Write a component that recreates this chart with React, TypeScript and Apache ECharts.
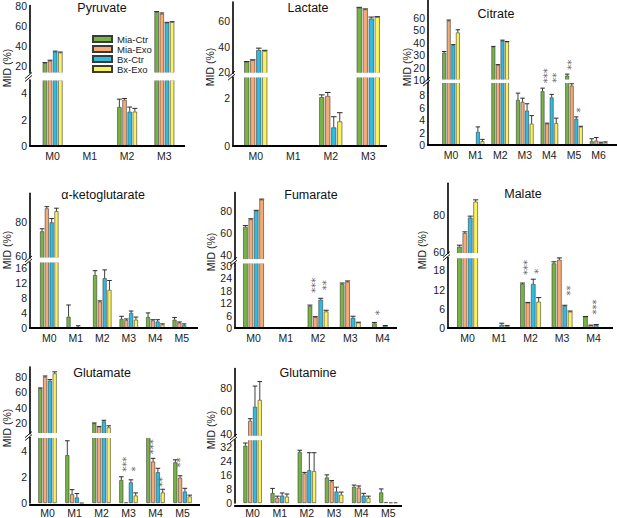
import { useEffect, useRef } from "react";
import * as echarts from "echarts";

const FONT = '"Liberation Sans", Arial, sans-serif';
const STAR_FONT = '"DejaVu Sans", sans-serif';
const SERIES_NAMES = ["Mia-Ctr", "Mia-Exo", "Bx-Ctr", "Bx-Exo"];
const SERIES_COLORS = ["#78b444", "#f6aa74", "#2ebde0", "#fbf35a"];
const STAR_COLOR = "#6a6a6a";

const CATS_4 = ["M0", "M1", "M2", "M3"];
const CATS_5 = ["M0", "M1", "M2", "M3", "M4"];
const CATS_6 = ["M0", "M1", "M2", "M3", "M4", "M5"];
const CATS_7 = ["M0", "M1", "M2", "M3", "M4", "M5", "M6"];

// rows: Mia-Ctr, Mia-Exo, Bx-Ctr, Bx-Exo
const pyruvateMeans = [
  [22.8, 0, 2.95, 73.5],
  [25.1, 0, 3.5, 71.8],
  [34.2, 0, 2.6, 63.0],
  [33.3, 0, 2.6, 63.5],
];
const pyruvateErrors = [
  [0.5, 0, 0.6, 0.5],
  [0.6, 0, 0.1, 0.8],
  [0.5, 0, 0.35, 0.3],
  [0.5, 0, 0.25, 0.4],
];
const pyruvateLowerTicks = [0, 2, 4];
const pyruvateUpperTicks = [20, 40, 60, 80];

const lactateMeans = [
  [28.0, 0, 2.05, 70.5],
  [29.3, 0, 2.1, 69.2],
  [37.3, 0, 0.78, 62.0],
  [36.5, 0, 1.03, 63.2],
];
const lactateErrors = [
  [0.3, 0, 0.1, 0.3],
  [0.4, 0, 0.15, 0.4],
  [1.5, 0, 0.45, 1.2],
  [0.6, 0, 0.37, 0.3],
];
const lactateLowerTicks = [0, 2];
const lactateUpperTicks = [20, 40, 60];

const citrateMeans = [
  [31.8, 0, 36.5, 7.2, 8.6, 13.5, 0.6],
  [57.5, 0, 22.0, 6.9, 3.4, 9.5, 0.7],
  [37.8, 2.1, 41.5, 5.5, 7.6, 4.2, 0.35],
  [48.0, 0.6, 40.5, 3.4, 3.5, 2.9, 0.4],
];
const citrateErrors = [
  [1.0, 0, 0.4, 1.1, 0.5, 1.2, 0.4],
  [0.5, 0, 0.3, 0.6, 0.1, 0.3, 0.5],
  [0.5, 0.8, 0.4, 1.1, 0.5, 0.3, 0.1],
  [2.2, 0.3, 0.3, 1.3, 0.8, 0.1, 0.1],
];
const citrateLowerTicks = [0, 2, 4, 6, 8];
const citrateUpperTicks = [10, 20, 30, 40, 50, 60];
// [category, bar, y, stars]
const citrateSig = [
  [4, 1, 13.4, 3],
  [4, 3, 11.8, 2],
  [5, 1, 22.2, 2],
  [5, 3, 5.6, 1],
];

const akgMeans = [
  [74.7, 3.0, 14.0, 2.4, 2.9, 2.2],
  [88.2, 0, 7.0, 2.1, 2.0, 1.4],
  [80.0, 0.3, 13.2, 4.0, 1.7, 0.8],
  [86.5, 0, 10.1, 2.2, 0.9, 0.1],
];
const akgErrors = [
  [1.5, 3.1, 1.2, 0.7, 1.1, 0.6],
  [1.0, 0, 0.2, 0.3, 0.2, 0.2],
  [2.2, 0.3, 2.2, 0.5, 0.5, 0.3],
  [1.8, 0, 2.5, 0.7, 0.2, 0],
];
const akgLowerTicks = [0, 4, 8, 12, 16];
const akgUpperTicks = [60, 80];

const fumarateMeans = [
  [65.7, 0, 10.6, 21.3, 2.2],
  [72.5, 0, 5.2, 22.4, 0.3],
  [80.3, 0, 13.7, 4.9, 1.0],
  [90.5, 0, 8.0, 2.6, 0.2],
];
const fumarateErrors = [
  [1.2, 0, 0.5, 0.5, 0.5],
  [0.6, 0, 0.3, 0.4, 0],
  [0.5, 0, 0.7, 0.8, 0.2],
  [0.5, 0, 0.6, 0.2, 0],
];
const fumarateLowerTicks = [0, 6, 12, 18, 24, 30];
const fumarateUpperTicks = [40, 60, 80];
const fumarateSig = [
  [2, 1, 20.7, 3],
  [2, 3, 20.7, 2],
  [4, 1, 7.4, 1],
];
// [bar, category, colour index] : the M0 Bx-Exo bar is drawn orange in the source
const fumarateColorOverrides = [[3, 0, 1]];

const malateMeans = [
  [62.7, 0, 13.75, 20.2, 3.5],
  [70.0, 0, 7.9, 21.3, 0.8],
  [78.4, 1.0, 13.75, 6.9, 0.9],
  [87.0, 0.6, 8.2, 5.1, 0],
];
const malateErrors = [
  [0.8, 0, 0.3, 0.5, 0.1],
  [0.7, 0, 0.1, 0.6, 0.1],
  [0.8, 0.5, 1.5, 0.2, 0.2],
  [1.0, 0.2, 1.3, 0.2, 0],
];
const malateLowerTicks = [0, 6, 12, 18];
const malateUpperTicks = [60, 80];
const malateSig = [
  [2, 1, 18.9, 3],
  [2, 3, 17.7, 1],
  [3, 3, 11.7, 2],
  [4, 2, 6.6, 3],
];

const glutamateMeans = [
  [65.2, 3.65, 19.5, 1.75, 5.3, 3.1],
  [80.3, 0.67, 15.0, 0.05, 3.16, 1.93],
  [75.1, 0.42, 22.0, 1.57, 2.35, 0.87],
  [84.7, 0, 14.3, 0.57, 0.8, 0.5],
];
const glutamateErrors = [
  [0.5, 1.1, 0.5, 0.25, 0, 0.2],
  [1.0, 0.35, 0.5, 0, 0.25, 0.15],
  [1.5, 0.3, 1.5, 0.2, 0.3, 0.25],
  [2.0, 0, 2.0, 0.2, 0.25, 0.1],
];
const glutamateLowerTicks = [0, 2, 4];
const glutamateUpperTicks = [20, 40, 60, 80];
const glutamateSig = [
  [3, 1, 2.96, 3],
  [3, 3, 2.6, 1],
  [4, 1, 4.3, 3],
  [4, 3, 1.6, 2],
  [5, 1, 3.1, 2],
];

const glutamineMeans = [
  [32.6, 5.6, 29.0, 14.5, 9.2, 6.0],
  [51.3, 2.9, 16.8, 12.3, 8.7, 0.5],
  [63.7, 4.2, 18.6, 6.5, 4.2, 0.3],
  [69.6, 3.6, 18.1, 4.7, 2.9, 0.3],
];
const glutamineErrors = [
  [1.5, 2.7, 1.0, 1.5, 1.0, 2.0],
  [2.0, 1.0, 0.6, 0.5, 1.0, 0],
  [18.0, 1.5, 10.0, 2.5, 1.3, 0],
  [16.0, 1.5, 10.5, 1.5, 1.0, 0],
];
const glutamineLowerTicks = [0, 8, 16, 24, 32];
const glutamineUpperTicks = [40, 60, 80];

const PANELS = [
  { title: "Pyruvate", cats: CATS_4, means: pyruvateMeans, errs: pyruvateErrors, lower: [0, 5], upper: [13, 80], lowerTicks: pyruvateLowerTicks, upperTicks: pyruvateUpperTicks, sig: [], overrides: [] },
  { title: "Lactate", cats: CATS_4, means: lactateMeans, errs: lactateErrors, lower: [0, 2.9], upper: [19, 75], lowerTicks: lactateLowerTicks, upperTicks: lactateUpperTicks, sig: [], overrides: [] },
  { title: "Citrate", cats: CATS_7, means: citrateMeans, errs: citrateErrors, lower: [0, 10], upper: [10, 74], lowerTicks: citrateLowerTicks, upperTicks: citrateUpperTicks, sig: citrateSig, overrides: [] },
  { title: "\u03b1-ketoglutarate", cats: CATS_6, means: akgMeans, errs: akgErrors, lower: [0, 17.5], upper: [59, 97], lowerTicks: akgLowerTicks, upperTicks: akgUpperTicks, sig: [], overrides: [] },
  { title: "Fumarate", cats: CATS_5, means: fumarateMeans, errs: fumarateErrors, lower: [0, 31.5], upper: [36, 97], lowerTicks: fumarateLowerTicks, upperTicks: fumarateUpperTicks, sig: fumarateSig, overrides: fumarateColorOverrides },
  { title: "Malate", cats: CATS_5, means: malateMeans, errs: malateErrors, lower: [0, 22], upper: [59, 97], lowerTicks: malateLowerTicks, upperTicks: malateUpperTicks, sig: malateSig, overrides: [] },
  { title: "Glutamate", cats: CATS_6, means: glutamateMeans, errs: glutamateErrors, lower: [0, 5], upper: [6, 93], lowerTicks: glutamateLowerTicks, upperTicks: glutamateUpperTicks, sig: glutamateSig, overrides: [] },
  { title: "Glutamine", cats: CATS_6, means: glutamineMeans, errs: glutamineErrors, lower: [0, 36], upper: [38, 97], lowerTicks: glutamineLowerTicks, upperTicks: glutamineUpperTicks, sig: [], overrides: [] },
];

// pixel layout of each panel
const LAYOUT = [
  { axisX: 30, left: 34, width: 149, xEnd: 185, base: 146, lowerTop: 80, upperTop: 5, upperBottom: 73, barW: 4.3, titleX: 102, titleY: 8, nameX: 7, nameY: 68 },
  { axisX: 233, left: 237, width: 150, xEnd: 387, base: 146, lowerTop: 77, upperTop: 2, upperBottom: 73.4, barW: 5, titleX: 308, titleY: 8, nameX: 210, nameY: 67 },
  { axisX: 428, left: 438.7, width: 172.2, xEnd: 617, base: 145, lowerTop: 82.5, upperTop: 0, upperBottom: 80, barW: 3.8, titleX: 496, titleY: 14, nameX: 407, nameY: 67 },
  { axisX: 30, left: 36, width: 159, xEnd: 198, base: 328, lowerTop: 262, upperTop: 193.4, upperBottom: 258, barW: 4, titleX: 103, titleY: 195, nameX: 7, nameY: 250 },
  { axisX: 235, left: 237.4, width: 161.25, xEnd: 397, base: 328, lowerTop: 263, upperTop: 192.5, upperBottom: 259.5, barW: 4.5, titleX: 311, titleY: 195, nameX: 211, nameY: 252 },
  { axisX: 448, left: 451.8, width: 157.5, xEnd: 613, base: 328, lowerTop: 257.6, upperTop: 183.2, upperBottom: 253.5, barW: 4.5, titleX: 523, titleY: 194, nameX: 422, nameY: 250 },
  { axisX: 30, left: 34, width: 162, xEnd: 200, base: 505, lowerTop: 437.5, upperTop: 367, upperBottom: 433.7, barW: 4, titleX: 102, titleY: 373, nameX: 7, nameY: 428 },
  { axisX: 235, left: 239, width: 163, xEnd: 402, base: 506, lowerTop: 439.7, upperTop: 368.5, upperBottom: 436.3, barW: 4, titleX: 308, titleY: 373, nameX: 211, nameY: 430 },
];

const BAR_GAP = 0.2;

function barOffset(L: { barW: number }, s: number) {
  const total = 4 * L.barW + 3 * BAR_GAP * L.barW;
  return -total / 2 + L.barW / 2 + s * L.barW * (1 + BAR_GAP);
}

function buildOption() {
  const grid: any[] = [];
  const xAxis: any[] = [];
  const yAxis: any[] = [];
  const series: any[] = [];
  const graphic: any[] = [];

  PANELS.forEach((p, i) => {
    const L = LAYOUT[i];
    const parts = [
      { top: L.upperTop, bottom: L.upperBottom, range: p.upper, ticks: p.upperTicks, isLower: false },
      { top: L.lowerTop, bottom: L.base, range: p.lower, ticks: p.lowerTicks, isLower: true },
    ];
    parts.forEach((part) => {
      const g = grid.length;
      grid.push({ left: L.left, top: part.top, width: L.width, height: part.bottom - part.top });
      xAxis.push({
        type: "category",
        gridIndex: g,
        data: p.cats,
        show: part.isLower,
        axisLine: { show: false },
        axisTick: { show: false },
        axisLabel: { fontSize: 10.5, color: "#222", margin: 4, fontFamily: FONT },
      });
      yAxis.push({
        type: "value",
        gridIndex: g,
        min: part.range[0],
        max: part.range[1],
        offset: L.left - L.axisX,
        splitLine: { show: false },
        axisTick: { show: false },
        axisLine: { show: true, onZero: false, lineStyle: { color: "#000", width: 1.6 } },
        axisLabel: { customValues: part.ticks, fontSize: 10.5, color: "#222", margin: 3, fontFamily: FONT },
      });
      for (let k = 0; k < 4; k++) {
        const data = p.means[k].map((v, c) => {
          const ov = p.overrides.find((o: number[]) => o[0] === k && o[1] === c);
          return ov ? { value: v, itemStyle: { color: SERIES_COLORS[ov[2]] } } : v;
        });
        series.push({
          type: "bar",
          name: SERIES_NAMES[k],
          xAxisIndex: g,
          yAxisIndex: g,
          data,
          barWidth: L.barW,
          barGap: BAR_GAP * 100 + "%",
          clip: true,
          silent: true,
          itemStyle: { color: SERIES_COLORS[k], borderColor: "#3a3a3a", borderWidth: 0.6 },
        });
      }
      const errItems: number[][] = [];
      for (let k = 0; k < 4; k++) {
        p.means[k].forEach((v, c) => {
          const e = p.errs[k][c];
          if (e <= 0 || v <= 0) return;
          const inside = part.isLower ? v + e <= part.range[1] : v > part.range[0];
          if (inside) errItems.push([c, v, e, k]);
        });
      }
      series.push({
        type: "custom",
        xAxisIndex: g,
        yAxisIndex: g,
        silent: true,
        z: 4,
        itemStyle: { color: "#2a2a2a" },
        data: errItems,
        renderItem: (_params: any, api: any) => {
          const c = api.value(0);
          const v = api.value(1);
          const e = api.value(2);
          const s = api.value(3);
          const b = api.coord([c, v]);
          const t = api.coord([c, v + e]);
          const x = b[0] + barOffset(L, s);
          const hw = L.barW / 2 + 0.3;
          return {
            type: "group",
            children: [
              { type: "line", shape: { x1: x, y1: b[1], x2: x, y2: t[1] }, style: { stroke: "#2a2a2a", lineWidth: 0.9 } },
              { type: "line", shape: { x1: x - hw, y1: t[1], x2: x + hw, y2: t[1] }, style: { stroke: "#2a2a2a", lineWidth: 1 } },
            ],
          };
        },
      });
    });

    // decorations from the layout
    graphic.push({
      type: "text",
      x: L.titleX,
      y: L.titleY,
      style: { text: p.title, fontSize: 12.5, fontFamily: FONT, fill: "#111", align: "center", verticalAlign: "middle" },
    });
    graphic.push({
      type: "text",
      x: L.nameX,
      y: L.nameY,
      rotation: Math.PI / 2,
      style: { text: "MID (%)", fontSize: 10.5, fontFamily: FONT, fill: "#222", align: "center", verticalAlign: "middle" },
    });
    graphic.push({
      type: "line",
      z: 100,
      shape: { x1: L.axisX - 0.8, y1: L.base, x2: L.xEnd, y2: L.base },
      style: { stroke: "#000", lineWidth: 2 },
    });
    // white strip over the axis break (above bars, below legend)
    graphic.push({
      type: "rect",
      z: 3,
      shape: { x: L.axisX + 1, y: L.upperBottom - 0.6, width: L.xEnd - L.axisX - 1, height: L.lowerTop - L.upperBottom + 1.2 },
      style: { fill: "#fff" },
    });
    const mid = (L.upperBottom + L.lowerTop) / 2;
    [0, 3].forEach((d) => {
      graphic.push({
        type: "line",
        z: 101,
        shape: { x1: L.axisX - 5, y1: mid + 2 + d, x2: L.axisX + 2, y2: mid - 4 + d },
        style: { stroke: "#000", lineWidth: 0.9 },
      });
    });
  });

  return {
    animation: false,
    backgroundColor: "#fff",
    grid,
    xAxis,
    yAxis,
    series,
    graphic,
    legend: {
      data: SERIES_NAMES,
      orient: "vertical",
      left: 87,
      top: 29,
      z: 20,
      itemWidth: 19,
      itemHeight: 6,
      itemGap: 0,
      icon: "rect",
      selectedMode: false,
      textStyle: { fontSize: 9.5, lineHeight: 9.5, fontFamily: FONT, color: "#222" },
    },
  };
}

// significance asterisks, placed through the axes' own data-to-pixel conversion
function buildStars(chart: any) {
  const out: any[] = [];
  PANELS.forEach((p, i) => {
    const L = LAYOUT[i];
    (p.sig as number[][]).forEach((sg) => {
      const g = sg[2] <= p.lower[1] ? 2 * i + 1 : 2 * i;
      const pt = chart.convertToPixel({ xAxisIndex: g, yAxisIndex: g }, [p.cats[sg[0]], sg[2]]);
      if (!pt) return;
      out.push({
        type: "text",
        z: 50,
        x: pt[0] + barOffset(L, sg[1]),
        y: pt[1],
        rotation: Math.PI / 2,
        style: {
          text: "*".repeat(sg[3]),
          fontSize: 10,
          fontFamily: STAR_FONT,
          fill: STAR_COLOR,
          align: "center",
          verticalAlign: "middle",
        },
      });
    });
  });
  return out;
}

export default function App() {
  const ref = useRef<HTMLDivElement>(null);
  useEffect(() => {
    if (!ref.current) return;
    const chart = echarts.init(ref.current, undefined, { renderer: "svg" });
    const option: any = buildOption();
    chart.setOption(option);
    chart.setOption({ graphic: [...option.graphic, ...buildStars(chart)] });
    return () => chart.dispose();
  }, []);
  return (
    <div
      ref={ref}
      style={{ position: "absolute", left: 0, top: 0, width: 617, height: 518, background: "#fff" }}
    />
  );
}
